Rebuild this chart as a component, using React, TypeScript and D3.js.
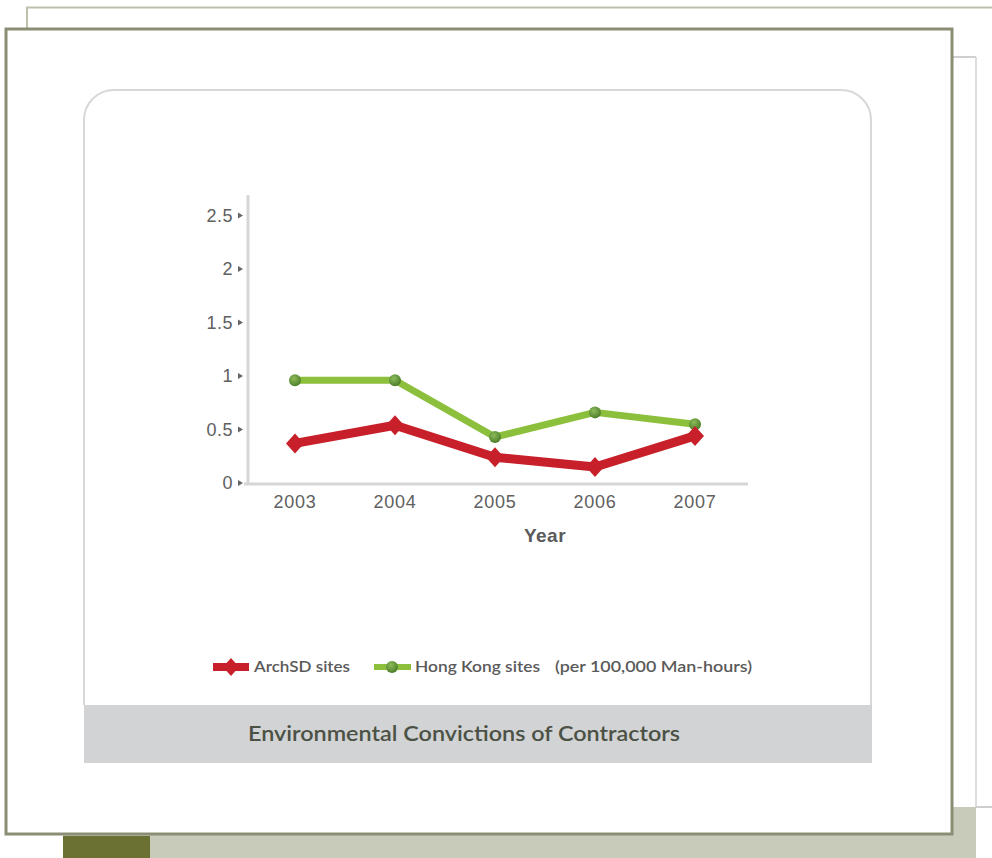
import React from "react";
import * as d3 from "d3";

const years = ["2003", "2004", "2005", "2006", "2007"];
const archsd = [0.37, 0.54, 0.24, 0.15, 0.44];
const hongKong = [0.96, 0.96, 0.43, 0.66, 0.55];
const yTicks = [0, 0.5, 1, 1.5, 2, 2.5];
const yTickLabels = ["0", "0.5", "1", "1.5", "2", "2.5"];
const seriesNames = ["ArchSD sites", "Hong Kong sites"];
const unitNote = "(per 100,000 Man-hours)";
const title = "Environmental Convictions of Contractors";
const xTitle = "Year";

const RED = "#c8202a";
const GREEN = "#8cc03c";
const GREEN_DOT = "#4d7f2a";

export default function App() {
  const x = d3.scalePoint<string>().domain(years).range([295, 695]);
  const y = d3.scaleLinear().domain([0, 2.5]).range([483, 215.5]);

  const line = d3
    .line<number>()
    .x((_, i) => x(years[i]) as number)
    .y((d) => y(d));

  const diamond = (cx: number, cy: number, w = 9, h = 10) =>
    `M${cx},${cy - h}L${cx + w},${cy}L${cx},${cy + h}L${cx - w},${cy}Z`;

  const cardPath = `M84,705 L84,120 A30,30 0 0 1 114,90 L841,90 A30,30 0 0 1 871,120 L871,705`;

  return (
    <svg
      width={992}
      height={858}
      style={{ position: "absolute", left: 0, top: 0, background: "#ffffff" }}
    >
      <defs>
        <radialGradient id="gdot" cx="40%" cy="35%" r="65%">
          <stop offset="0%" stopColor="#8dbb5a" />
          <stop offset="100%" stopColor={GREEN_DOT} />
        </radialGradient>
      </defs>
      {/* back frame */}
      <path d="M27,40 L27,7.5 L992,7.5" fill="none" stroke="#bdc0ab" strokeWidth={2} />
      {/* right back panel */}
      <line x1={952} y1={57} x2={976} y2={57} stroke="#cfcfcf" strokeWidth={2} />
      <line x1={976} y1={57} x2={976} y2={807} stroke="#dddddd" strokeWidth={2} />
      <line x1={976} y1={807} x2={992} y2={807} stroke="#cfcfcf" strokeWidth={2} />
      {/* shadow */}
      <rect x={63} y={834} width={913} height={24} fill="#c9cbba" />
      <rect x={952} y={807} width={24} height={51} fill="#c9cbba" />
      <rect x={63} y={836} width={87} height={22} fill="#6b7132" />
      {/* front frame */}
      <rect x={6} y={29} width={946} height={805} fill="#ffffff" stroke="#8b8e74" strokeWidth={3} />
      {/* card */}
      <path d={cardPath} fill="#ffffff" stroke="#d8d8d8" strokeWidth={2} />
      <rect x={84} y={705} width={788} height={58} fill="#d1d3d4" />
      <text
        x={464}
        y={741}
        textAnchor="middle"
        fontFamily="Lato, 'Noto Sans', sans-serif"
        fontSize={21}
        fontWeight={600}
        fill="#4c5145"
        textLength={432}
        lengthAdjust="spacingAndGlyphs"
      >
        {title}
      </text>

      {/* axes */}
      <line x1={248} y1={195} x2={248} y2={484} stroke="#d6d6d6" strokeWidth={3} />
      <line x1={244} y1={484} x2={748} y2={484} stroke="#d6d6d6" strokeWidth={3} />
      {yTicks.map((t, i) => (
        <g key={t}>
          <path d={`M238,${y(t) - 3}L243,${y(t)}L238,${y(t) + 3}Z`} fill="#666" />
          <text
            x={233}
            y={y(t)}
            dy="0.35em"
            textAnchor="end"
            fontFamily="'Liberation Sans', Arial, sans-serif"
            fontSize={18}
            letterSpacing={0.5}
            fill="#606060"
          >
            {yTickLabels[i]}
          </text>
        </g>
      ))}
      {years.map((yr) => (
        <text
          key={yr}
          x={x(yr)}
          y={502}
          dy="0.35em"
          textAnchor="middle"
          fontFamily="'Liberation Sans', Arial, sans-serif"
          fontSize={18}
          letterSpacing={0.8}
          fill="#606060"
        >
          {yr}
        </text>
      ))}
      <text
        x={545}
        y={535}
        dy="0.35em"
        textAnchor="middle"
        fontFamily="'Liberation Sans', Arial, sans-serif"
        fontSize={19}
        fontWeight="bold"
        letterSpacing={0.5}
        fill="#5a5a5a"
      >
        {xTitle}
      </text>

      {/* series */}
      <path d={line(hongKong) || ""} fill="none" stroke={GREEN} strokeWidth={7} strokeLinejoin="round" />
      <path d={line(archsd) || ""} fill="none" stroke={RED} strokeWidth={9} strokeLinejoin="round" />
      {hongKong.map((v, i) => (
        <circle key={"g" + i} cx={x(years[i])} cy={y(v)} r={6} fill="url(#gdot)" />
      ))}
      {archsd.map((v, i) => (
        <path key={"r" + i} d={diamond(x(years[i]) as number, y(v))} fill={RED} />
      ))}

      {/* legend */}
      <line x1={213} y1={667} x2={249} y2={667} stroke={RED} strokeWidth={8} />
      <path d={diamond(231, 667, 8, 9)} fill={RED} />
      <text x={254} y={667} dy="0.35em" fontFamily="Lato, 'Noto Sans', sans-serif" fontSize={15} fontWeight={600} fill="#5a5a5a" textLength={96} lengthAdjust="spacingAndGlyphs">
        {seriesNames[0]}
      </text>
      <line x1={374} y1={667} x2={411} y2={667} stroke={GREEN} strokeWidth={6} />
      <circle cx={392} cy={667} r={6} fill="url(#gdot)" />
      <text x={415} y={667} dy="0.35em" fontFamily="Lato, 'Noto Sans', sans-serif" fontSize={15} fontWeight={600} fill="#5a5a5a" textLength={125} lengthAdjust="spacingAndGlyphs">
        {seriesNames[1]}
      </text>
      <text x={555} y={667} dy="0.35em" fontFamily="Lato, 'Noto Sans', sans-serif" fontSize={15} fontWeight={600} fill="#5a5a5a" textLength={197} lengthAdjust="spacingAndGlyphs">
        {unitNote}
      </text>
    </svg>
  );
}
